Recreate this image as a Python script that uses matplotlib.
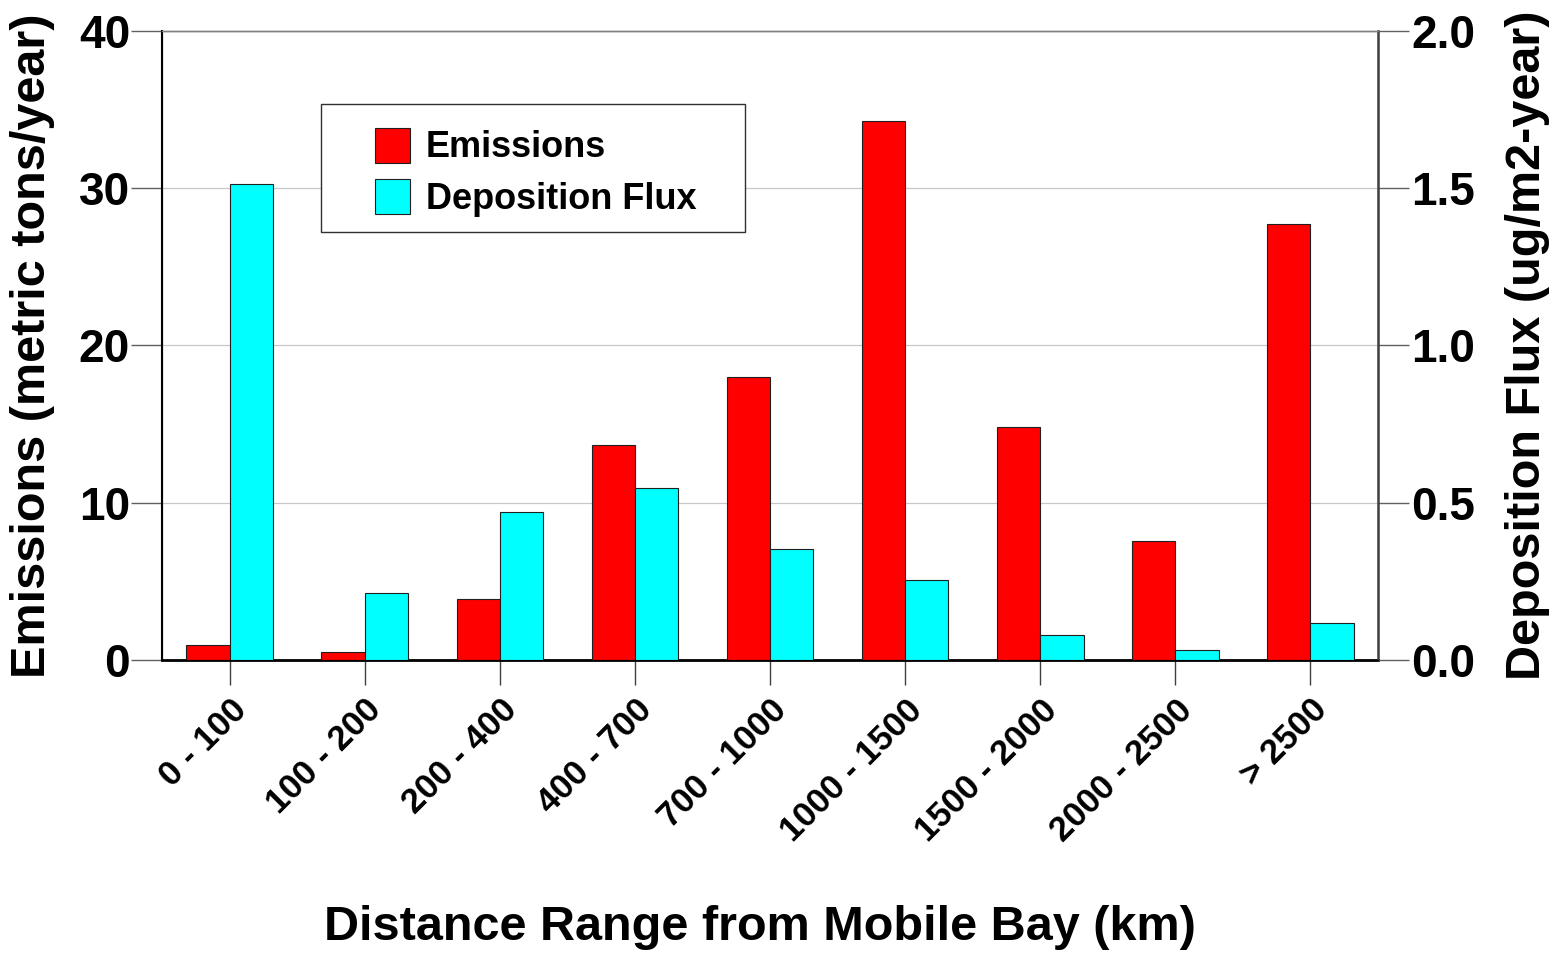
import numpy as np
import matplotlib.pyplot as plt
from matplotlib.patches import Rectangle

categories = ["0 - 100", "100 - 200", "200 - 400", "400 - 700", "700 - 1000",
              "1000 - 1500", "1500 - 2000", "2000 - 2500", "> 2500"]
emissions = [0.95, 0.5, 3.9, 13.7, 18.0, 34.3, 14.8, 7.6, 27.7]
deposition = [1.513, 0.213, 0.47, 0.547, 0.353, 0.254, 0.08, 0.032, 0.118]

plt.rcParams["font.family"] = ["Liberation Sans", "DejaVu Sans"]
plt.rcParams["font.weight"] = "bold"

fig = plt.figure(figsize=(15.58, 9.56), dpi=100)
ax = fig.add_axes([0.104, 0.3096, 0.7805, 0.658])
ax2 = ax.twinx()

x = np.arange(len(categories))
w = 0.32
ax.bar(x - w / 2, emissions, w, color="#ff0000", edgecolor="#202020", linewidth=0.8,
       label="Emissions", zorder=3)
ax2.bar(x + w / 2, deposition, w, color="#00ffff", edgecolor="#202020", linewidth=0.8,
        label="Deposition Flux", zorder=3)

ax.set_xlim(-0.5, len(categories) - 0.5)
ax.set_ylim(0, 40)
ax2.set_ylim(0, 2.0)
ax.set_yticks([0, 10, 20, 30, 40])
ax2.set_yticks([0, 0.5, 1.0, 1.5, 2.0])
ax2.set_yticklabels(["0.0", "0.5", "1.0", "1.5", "2.0"])

ax.yaxis.grid(True, color="#c8c8c8", linewidth=0.9, zorder=0)
ax.set_axisbelow(True)

for a in (ax, ax2):
    a.spines["top"].set_color("#808080")
    a.spines["top"].set_linewidth(1.0)
ax.spines["left"].set_linewidth(1.5)
ax.spines["bottom"].set_linewidth(2.0)
ax2.spines["right"].set_linewidth(1.8)
ax2.spines["right"].set_color("#404040")

ax.tick_params(axis="y", direction="out", length=22, width=1.0, color="#606060",
               labelsize=33, pad=1)
ax2.tick_params(axis="y", direction="out", length=22, width=1.0, color="#606060",
                labelsize=33, pad=2)
ax.tick_params(axis="x", direction="out", length=18, width=1.0, color="#404040",
               labelsize=25, pad=6)
ax.set_xticks(x)
ax.set_xticklabels(categories, rotation=45, ha="right", rotation_mode="anchor",
                   fontweight="bold")
for lab in ax.get_yticklabels() + ax2.get_yticklabels():
    lab.set_fontweight("bold")

ax.set_ylabel("Emissions (metric tons/year)", fontsize=35, fontweight="bold", labelpad=17)
ax2.set_ylabel("Deposition Flux (ug/m2-year)", fontsize=35, fontweight="bold", labelpad=21)
fig.text(0.488, 0.006, "Distance Range from Mobile Bay (km)", ha="center", va="bottom",
         fontsize=35, fontweight="bold")

# legend box drawn separately so the inner padding can match
ax2.add_patch(Rectangle((0.1308, 0.680), 0.349, 0.204, transform=ax2.transAxes,
                        facecolor="white", edgecolor="#303030", linewidth=1.0,
                        zorder=9))
h1, l1 = ax.get_legend_handles_labels()
h2, l2 = ax2.get_legend_handles_labels()
leg = ax2.legend(h1 + h2, l1 + l2, loc="upper left", bbox_to_anchor=(0.175, 0.846),
                 fontsize=26, frameon=False, borderpad=0, handlelength=0.97,
                 handleheight=1.1, labelspacing=0.38, borderaxespad=0,
                 handletextpad=0.45)
leg.set_zorder(10)
for t in leg.get_texts():
    t.set_fontweight("bold")

fig.savefig("out.png", dpi=100)
